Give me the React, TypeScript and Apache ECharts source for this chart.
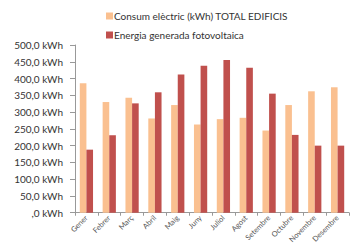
import React, { useEffect, useRef } from "react";
import * as echarts from "echarts";

const months = ["Gener", "Febrer", "Març", "Abril", "Maig", "Juny", "Juliol", "Agost", "Setembre", "Octubre", "Novembre", "Desembre"];
const consum = [386, 330, 343, 281, 321, 263, 279, 283, 245, 321, 362, 374];
const generada = [188, 231, 326, 359, 412, 438, 455, 432, 355, 232, 200, 200];

function fmt(v: number): string {
  if (v === 0) return ",0 kWh";
  return v.toFixed(1).replace(".", ",") + " kWh";
}

export default function App() {
  const ref = useRef<HTMLDivElement>(null);
  useEffect(() => {
    const chart = echarts.init(ref.current!, null, { renderer: "svg" });
    chart.setOption({
      animation: false,
      textStyle: { fontFamily: "Lato" },
      legend: {
        orient: "vertical",
        left: 101,
        top: 6,
        itemWidth: 7,
        itemHeight: 7,
        itemGap: 9,
        icon: "rect",
        textStyle: { fontSize: 10, color: "#333", padding: [0, 0, 0, -4] },
        data: ["Consum elèctric (kWh) TOTAL EDIFICIS", "Energia generada fotovoltaica"],
      },
      grid: { left: 75, right: 2, top: 45, bottom: 31, containLabel: false },
      xAxis: {
        type: "category",
        data: months,
        axisLine: { lineStyle: { color: "#999" } },
        axisTick: { show: true, alignWithLabel: false, length: 3, lineStyle: { color: "#999" } },
        axisLabel: { rotate: 45, fontSize: 7.5, color: "#555", margin: 4, interval: 0 },
      },
      yAxis: {
        type: "value",
        min: 0,
        max: 500,
        interval: 50,
        axisLine: { show: true, lineStyle: { color: "#999" } },
        axisTick: { show: true, length: 5, lineStyle: { color: "#999" } },
        splitLine: { show: false },
        axisLabel: { fontSize: 10, color: "#333", margin: 12, formatter: fmt },
      },
      series: [
        {
          name: "Consum elèctric (kWh) TOTAL EDIFICIS",
          type: "bar",
          data: consum,
          barWidth: "29%",
          barGap: "0%",
          itemStyle: { color: "#FAC090" },
        },
        {
          name: "Energia generada fotovoltaica",
          type: "bar",
          data: generada,
          barWidth: "29%",
          barGap: "0%",
          itemStyle: { color: "#C0504D" },
        },
      ],
    });
    return () => chart.dispose();
  }, []);
  return <div ref={ref} style={{ width: 351, height: 246, position: "absolute", left: 0, top: 0 }} />;
}
